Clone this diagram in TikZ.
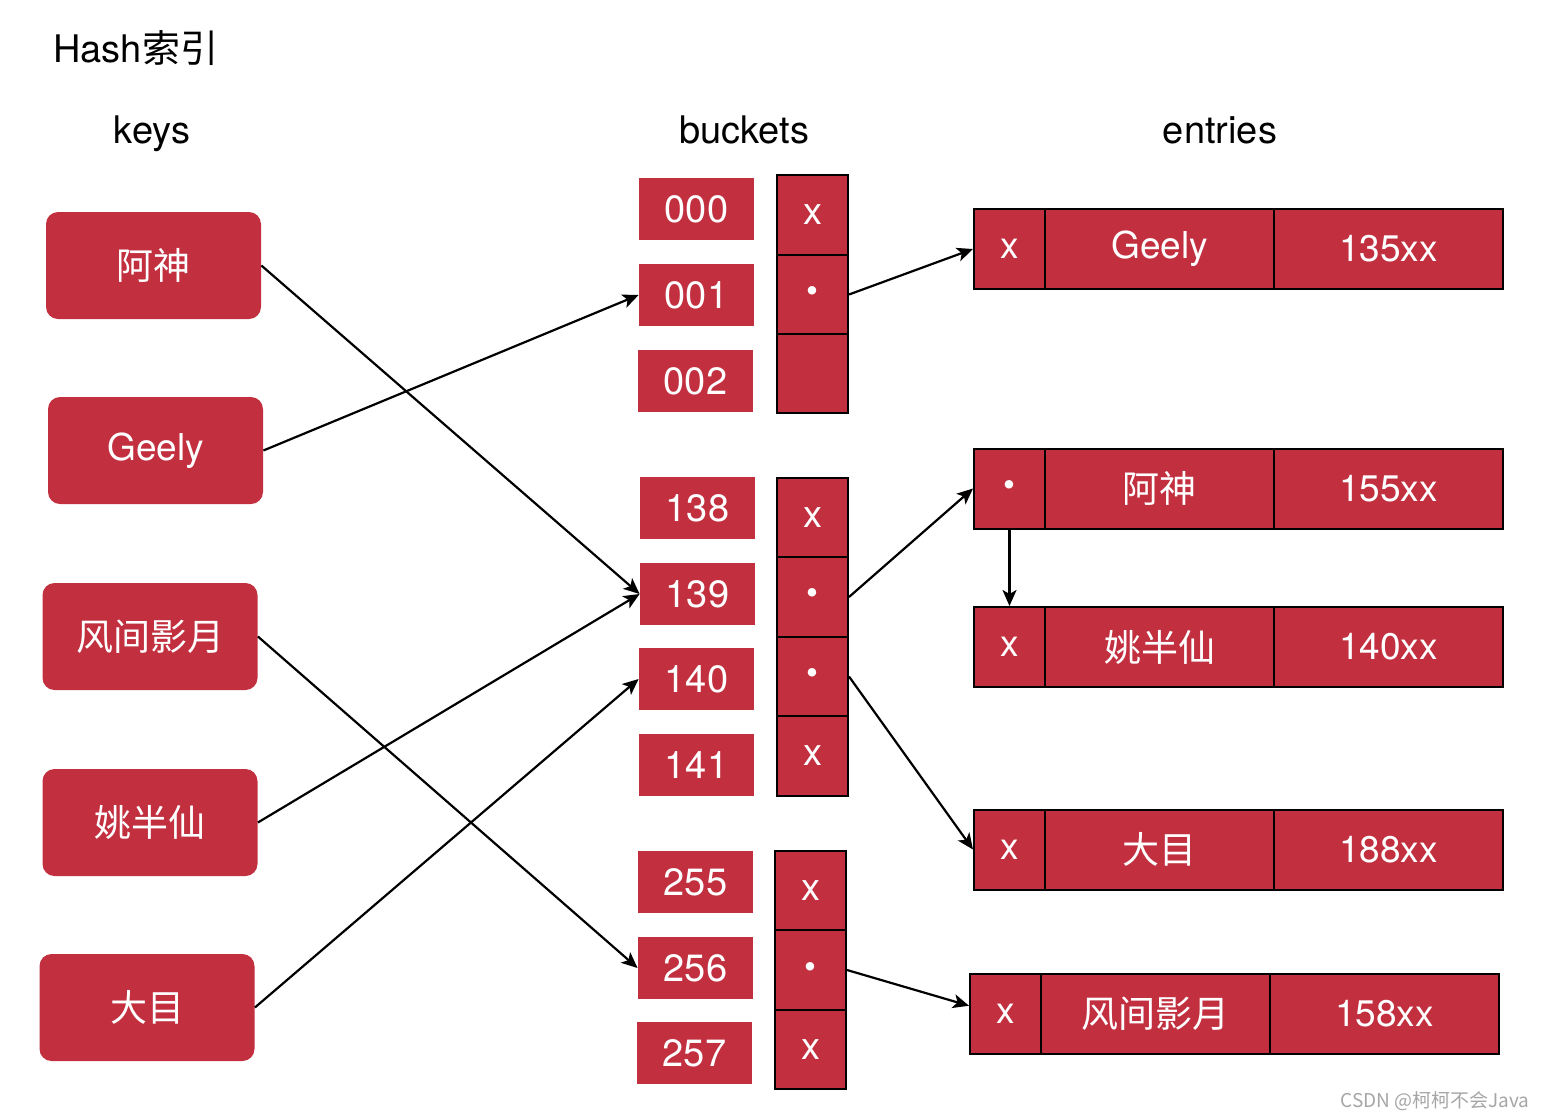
\documentclass[tikz,border=0pt]{standalone}
\usepackage{fontspec}
\setmainfont{TeX Gyre Heros}
\newfontfamily\cjk{Noto Sans CJK SC}
\usetikzlibrary{arrows.meta}
\definecolor{hred}{RGB}{194,48,64}
\newcommand{\pdot}{{\fontsize{17}{17}\selectfont\textbullet}}
\tikzset{
  x=0.5pt,y=-0.5pt,
  keybox/.style={fill=hred,rounded corners=6pt,minimum width=107.5pt,minimum height=53.5pt,text=white,font=\fontsize{18.5}{20}\selectfont,inner sep=0pt},
  blabel/.style={fill=hred,minimum width=57.5pt,minimum height=31pt,text=white,font=\fontsize{19}{20}\selectfont,inner sep=0pt},
  bcell/.style={fill=hred,draw=black,line width=1pt,minimum width=35.5pt,minimum height=39.7pt,text=white,font=\fontsize{19}{20}\selectfont,inner sep=0pt},
  ecell/.style={fill=hred,draw=black,line width=1pt,minimum height=40pt,text=white,font=\fontsize{18.5}{20}\selectfont,inner sep=0pt},
  ptr/.style={ecell,minimum width=35.5pt},
  ename/.style={ecell,minimum width=114.5pt},
  arr/.style={line width=1.1pt,-{Stealth[length=8pt,width=7pt,inset=2pt]}},
  heading/.style={font=\fontsize{19}{22}\selectfont,inner sep=0pt,anchor=base}
}
\begin{document}
\begin{tikzpicture}
\useasboundingbox (0,0) rectangle (1544,1120);
% headings
\node[heading,anchor=base west] (title) at (53,62) {Hash{\cjk 索引}};
\node[heading] (hkeys) at (152,143) {keys};
\node[heading] (hbuckets) at (744,143) {buckets};
\node[heading] (hentries) at (1220,143) {entries};
% keys
\node[keybox] (k1) at (153.5,265.5) {\cjk 阿神};
\node[keybox] (k2) at (155.5,450.5) {Geely};
\node[keybox] (k3) at (150,636.5) {\cjk 风间影月};
\node[keybox] (k4) at (150,822.5) {\cjk 姚半仙};
\node[keybox] (k5) at (147,1007.5) {\cjk 大目};
% bucket labels
\node[blabel] (b000) at (696.5,209) {000};
\node[blabel] (b001) at (696.5,295) {001};
\node[blabel] (b002) at (695.5,381) {002};
\node[blabel] (b138) at (697.5,508) {138};
\node[blabel] (b139) at (697.5,594) {139};
\node[blabel] (b140) at (696.5,679) {140};
\node[blabel] (b141) at (696.5,765) {141};
\node[blabel] (b255) at (695.5,882) {255};
\node[blabel] (b256) at (695.5,968) {256};
\node[blabel] (b257) at (694.5,1053) {257};
% bucket cells
\node[bcell] (g1a) at (812.5,215) {x};
\node[bcell] (g1b) at (812.5,294.5) {\pdot};
\node[bcell] (g1c) at (812.5,373.5) {};
\node[bcell] (g2a) at (812.5,517.5) {x};
\node[bcell] (g2b) at (812.5,597) {\pdot};
\node[bcell] (g2c) at (812.5,676.5) {\pdot};
\node[bcell] (g2d) at (812.5,756) {x};
\node[bcell] (g3a) at (810.5,890.5) {x};
\node[bcell] (g3b) at (810.5,970) {\pdot};
\node[bcell] (g3c) at (810.5,1049.5) {x};
% entries
\node[ptr] (e1a) at (1009.5,249) {x};
\node[ename] (e1b) at (1159.5,249) {Geely};
\node[ename] (e1c) at (1388.5,249) {135xx};
\node[ptr] (e2a) at (1009.5,488.5) {\pdot};
\node[ename] (e2b) at (1159.5,488.5) {\cjk 阿神};
\node[ename] (e2c) at (1388.5,488.5) {155xx};
\node[ptr] (e3a) at (1009.5,647) {x};
\node[ename] (e3b) at (1159.5,647) {\cjk 姚半仙};
\node[ename] (e3c) at (1388.5,647) {140xx};
\node[ptr] (e4a) at (1009.5,849.5) {x};
\node[ename] (e4b) at (1159.5,849.5) {\cjk 大目};
\node[ename] (e4c) at (1388.5,849.5) {188xx};
\node[ptr] (e5a) at (1005.5,1013.5) {x};
\node[ename] (e5b) at (1155.5,1013.5) {\cjk 风间影月};
\node[ename] (e5c) at (1384.5,1013.5) {158xx};
% arrows keys -> buckets
\draw[arr] (k1.east) -- (b139.west);
\draw[arr] (k2.east) -- (b001.west);
\draw[arr] (k3.east) -- (b256.west);
\draw[arr] (k4.east) -- (b139.west);
\draw[arr] (k5.east) -- (b140.west);
% arrows buckets -> entries
\draw[arr] (g1b.east) -- (e1a.west);
\draw[arr] (g2b.east) -- (e2a.west);
\draw[arr] (g2c.east) -- (e4a.west);
\draw[arr] (g3b.east) -- (e5a.168);
\draw[arr] (e2a.south) -- (e3a.north);
% watermark
\node[text=gray!70,font=\cjk\fontsize{9.5}{11}\selectfont,inner sep=0pt] (wm) at (1435,1101) {CSDN @柯柯不会Java};
\end{tikzpicture}
\end{document}
